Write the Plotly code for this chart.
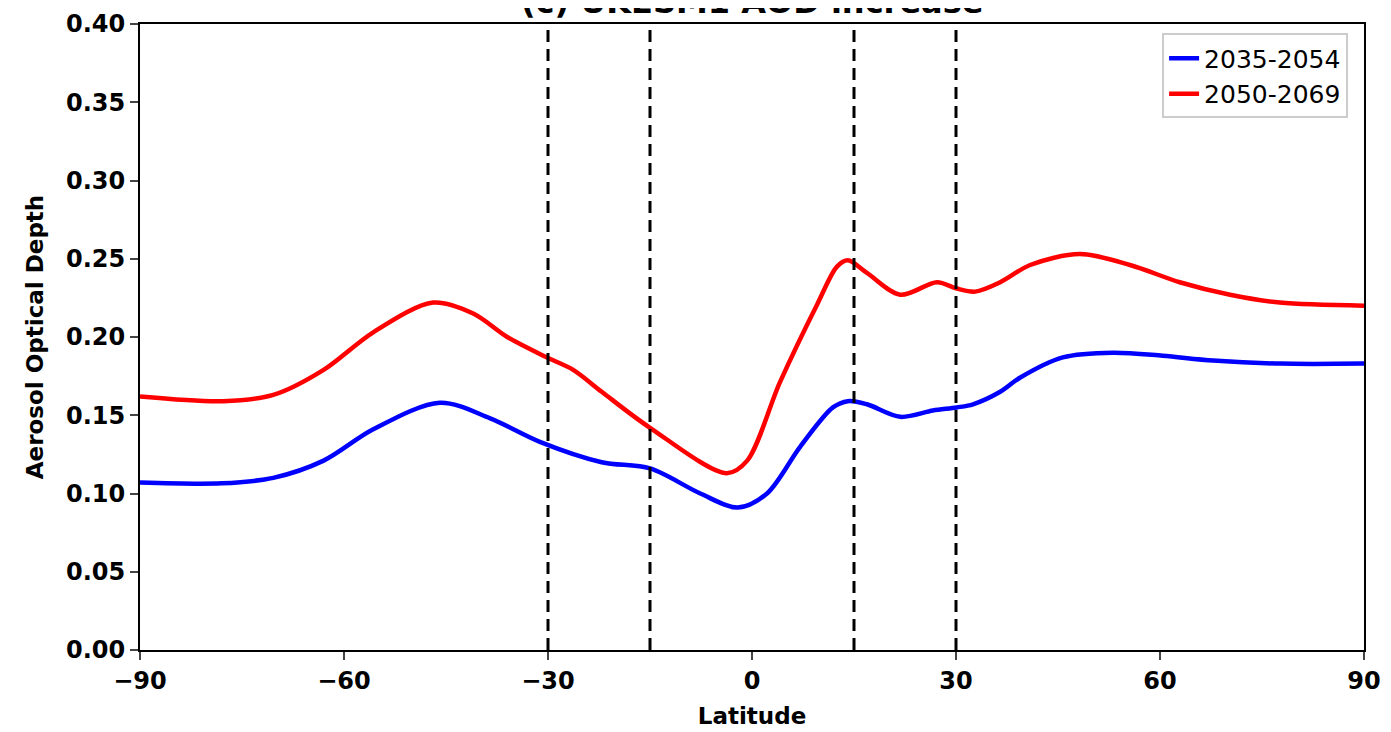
import plotly.graph_objects as go

lat_blue = [-90, -78, -70.4, -63, -55.7, -45.9, -38.5, -31.2, -22.1, -15, -7.6, -2.1, 2.2, 7.1, 11.9, 14.1, 16.9, 21.8, 26.6, 30.1, 32.5, 36.5, 39.4, 45.7, 53.1, 60.4, 67.8, 77.6, 90]
aod_blue = [0.107, 0.1065, 0.110, 0.121, 0.141, 0.158, 0.148, 0.133, 0.120, 0.116, 0.100, 0.091, 0.100, 0.130, 0.155, 0.159, 0.157, 0.149, 0.153, 0.155, 0.157, 0.165, 0.174, 0.187, 0.190, 0.188, 0.185, 0.183, 0.183]

lat_red = [-90, -77.8, -70.4, -63, -55.7, -46.9, -41, -36, -30.2, -26.3, -22.1, -15, -3.7, -0.7, 4.1, 9.6, 12.5, 14.1, 16.9, 21.8, 27.2, 30.1, 32.8, 36.5, 40.9, 48.2, 55.6, 62.9, 70.3, 77.6, 90]
aod_red = [0.162, 0.159, 0.163, 0.179, 0.203, 0.222, 0.215, 0.200, 0.187, 0.179, 0.165, 0.142, 0.113, 0.121, 0.171, 0.221, 0.245, 0.249, 0.241, 0.227, 0.235, 0.231, 0.229, 0.235, 0.246, 0.253, 0.246, 0.235, 0.227, 0.222, 0.220]

vlines = [-30, -15, 15, 30]
x_ticks = [-90, -60, -30, 0, 30, 60, 90]
y_ticks = [0.0, 0.05, 0.10, 0.15, 0.20, 0.25, 0.30, 0.35, 0.40]

fig = go.Figure()
fig.add_trace(go.Scatter(x=lat_blue, y=aod_blue, mode="lines", name="2035-2054",
                         line=dict(color="#0000ff", width=4.5, shape="spline", smoothing=0.9)))
fig.add_trace(go.Scatter(x=lat_red, y=aod_red, mode="lines", name="2050-2069",
                         line=dict(color="#ff0000", width=4.5, shape="spline", smoothing=0.9)))

for v in vlines:
    fig.add_shape(type="line", x0=v, x1=v, y0=0, y1=1, xref="x", yref="y domain",
                  line=dict(color="black", width=3, dash="12px,7px"), layer="above")

tickfont = dict(family="DejaVu Sans", size=24, color="black", weight="bold")
titlefont = dict(family="DejaVu Sans", size=23, color="black", weight="bold")
fig.update_layout(
    width=1391, height=732,
    margin=dict(l=132, r=35, t=16, b=90),
    paper_bgcolor="white", plot_bgcolor="white",
    title=dict(text="(c) UKESM1 AOD increase", x=0.535, xanchor="center",
               y=0.9935, yanchor="bottom", yref="container", automargin=False,
               font=dict(family="DejaVu Sans", size=32, color="black", weight="bold")),
    legend=dict(x=0.987, y=0.985, xanchor="right", yanchor="top",
                bgcolor="white", bordercolor="#cccccc", borderwidth=2,
                font=dict(family="DejaVu Sans", size=25, color="black")),
    xaxis=dict(range=[-90, 90], tickvals=x_ticks, ticks="outside", ticklen=8, tickwidth=2,
               showline=True, linecolor="black", linewidth=2, mirror=True, showgrid=False,
               zeroline=False, tickfont=tickfont, automargin=False,
               title=dict(text="Latitude", standoff=14, font=titlefont)),
    yaxis=dict(range=[0, 0.40], tickvals=y_ticks, tickformat=".2f", ticks="outside", ticklen=8,
               tickwidth=2, showline=True, linecolor="black", linewidth=2, mirror=True,
               showgrid=False, zeroline=False, tickfont=tickfont, automargin=False,
               title=dict(text="Aerosol Optical Depth", standoff=16, font=titlefont)),
)

fig.write_html("out.html")
